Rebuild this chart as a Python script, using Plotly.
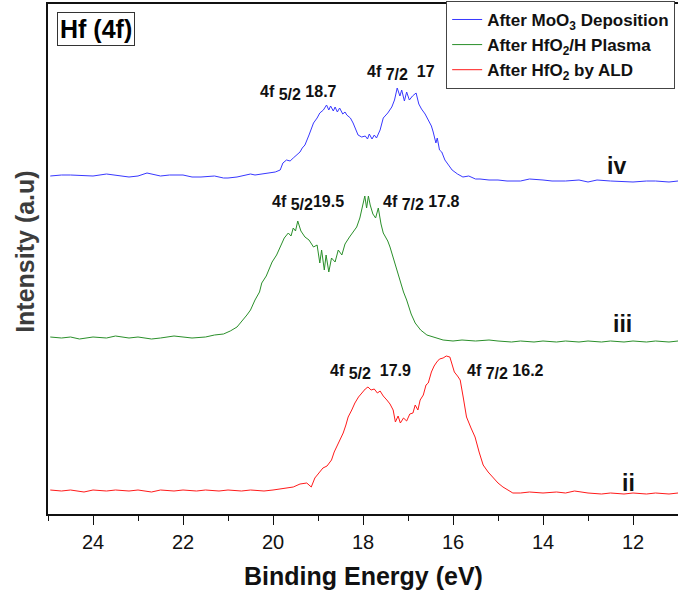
import plotly.graph_objects as go

# ---------------- data ----------------
energy_iv = [24.95,24.7,24.5,24.2,24.0,23.7,23.5,23.2,23.0,22.8,22.5,22.3,22.0,21.8,21.6,21.3,21.1,21.0,20.8,20.7,
             20.5,20.4,20.2,20.1,19.95,19.84,19.78,19.70,19.62,19.55,19.45,19.4,19.35,19.29,19.2,19.1,19.02,18.96,
             18.88,18.81,18.76,18.72,18.66,18.62,18.57,18.52,18.45,18.40,18.36,18.28,18.22,18.16,18.11,18.03,17.95,
             17.9,17.86,17.8,17.75,17.7,17.62,17.55,17.45,17.36,17.3,17.24,17.18,17.14,17.08,17.03,16.97,16.9,16.82,
             16.76,16.7,16.62,16.55,16.48,16.44,16.38,16.35,16.3,16.25,16.18,16.1,16.02,15.9,15.78,15.65,15.5,15.4,
             15.2,15.0,14.8,14.5,14.3,14.0,13.8,13.5,13.2,13.0,12.8,12.5,12.2,12.0,11.7,11.5,11.2,11.0]
intensity_iv = [338,339,339,338,338,340,339,337,338,341,338,339,339,337,337,338,336,336,337,338,
                340,339,340,341,342,344,351,354,353,356,360,362,366,369,379,391,396,401,
                404,409,404,408,403,407,402,406,400,402,399,396,391,384,379,377,378,
                375,380,375,379,376,384,396,401,407,414,426,418,424,413,422,414,418,421,
                410,405,400,394,388,382,371,376,364,362,354,349,344,340,337,338,335,335,
                334,334,333,333,335,334,333,333,334,332,334,333,332,332,333,333,332,333]

energy_iii = [24.95,24.7,24.5,24.3,24.0,23.7,23.5,23.2,23.0,22.7,22.5,22.2,22.0,21.8,21.5,21.3,21.1,20.95,20.8,20.7,
              20.58,20.5,20.4,20.3,20.25,20.15,20.02,19.92,19.84,19.75,19.66,19.6,19.55,19.5,19.45,19.38,19.29,19.2,
              19.1,19.02,18.96,18.92,18.86,18.82,18.76,18.7,18.62,18.55,18.47,18.4,18.3,18.22,18.14,18.07,18.0,
              17.96,17.92,17.88,17.84,17.78,17.72,17.66,17.6,17.55,17.45,17.4,17.3,17.2,17.1,17.03,16.93,16.84,
              16.72,16.58,16.45,16.22,16.0,15.8,15.5,15.2,15.0,14.7,14.5,14.2,14.0,13.7,13.5,13.2,13.0,12.7,12.5,
              12.2,12.0,11.7,11.5,11.2,11.0]
intensity_iii = [177,176,177,175,177,176,178,176,177,175,176,178,177,176,177,179,180,183,187,192,
                 199,204,214,222,231,238,252,259,267,276,281,278,286,283,293,283,277,274,
                 267,269,251,264,244,259,242,256,252,264,259,270,277,282,287,296,309,
                 318,306,318,309,300,296,306,290,281,273,267,252,236,222,214,200,191,
                 184,179,177,174,173,174,173,174,173,172,173,172,173,172,173,172,173,172,173,
                 172,173,172,173,172,173]

energy_ii = [24.95,24.7,24.5,24.2,24.0,23.7,23.5,23.2,23.0,22.7,22.5,22.2,22.0,21.7,21.5,21.2,21.0,20.7,20.5,20.2,
             20.0,19.8,19.65,19.55,19.4,19.25,19.15,19.07,18.98,18.89,18.8,18.7,18.64,18.59,18.52,18.44,18.38,18.33,
             18.25,18.18,18.1,18.03,17.95,17.89,17.82,17.75,17.68,17.62,17.55,17.47,17.4,17.33,17.28,17.22,17.17,
             17.1,17.03,16.96,16.89,16.84,16.78,16.73,16.66,16.6,16.55,16.48,16.42,16.36,16.3,16.22,16.15,16.07,
             16.02,15.97,15.9,15.84,15.77,15.7,15.6,15.51,15.42,15.33,15.22,15.11,15.0,14.89,14.78,14.67,14.5,14.3,
             14.0,13.7,13.5,13.3,13.0,12.7,12.5,12.2,12.0,11.7,11.5,11.2,11.0]
intensity_ii = [24,23,24,22,24,23,24,23,24,22,24,23,24,23,24,23,24,23,24,23,
                24,25,26,27,30,31,27,36,41,46,48,54,62,67,74,81,89,97,
                104,111,117,121,125,127,124,125,121,123,118,114,110,104,92,98,91,
                96,93,100,101,109,104,114,119,129,131,142,148,152,155,156,158,157,
                150,142,138,134,116,97,86,77,62,49,42,36,31,27,24,21,21,22,
                21,22,21,23,21,20,21,20,21,20,21,20,21]

series_names = ["After MoO<sub>3</sub> Deposition", "After HfO<sub>2</sub>/H Plasma", "After HfO<sub>2</sub> by ALD"]
series_colors = ["#3838ff", "#2a8f2a", "#ff1a1a"]

peak_labels = ["4f <sub><span style='font-size:16px'>5/2</span></sub> 18.7",
               "4f <sub><span style='font-size:16px'>7/2</span></sub>  17",
               "4f <sub><span style='font-size:16px'>5/2</span></sub>19.5",
               "4f <sub><span style='font-size:16px'>7/2</span></sub> 17.8",
               "4f <sub><span style='font-size:16px'>5/2</span></sub>  17.9",
               "4f <sub><span style='font-size:16px'>7/2</span></sub> 16.2"]
peak_label_x = [19.44, 17.16, 19.23, 16.70, 17.83, 14.84]
peak_label_y = [421, 441, 311, 311, 142, 142]

curve_labels = ["iv", "iii", "ii"]
curve_label_x = [12.36, 12.23, 12.09]
curve_label_y = [348, 190, 31]

x_ticks = [24, 22, 20, 18, 16, 14, 12]

# ---------------- figure ----------------
FONT = "Liberation Sans, Arial, sans-serif"
fig = go.Figure()
for ex, iy, name, col in zip([energy_iv, energy_iii, energy_ii],
                             [intensity_iv, intensity_iii, intensity_ii],
                             series_names, series_colors):
    fig.add_trace(go.Scatter(x=ex, y=iy, mode="lines", name="<b>" + name + "</b>",
                             line=dict(color=col, width=1), legendgroup=name))

annotations = []
for t, x, y in zip(peak_labels, peak_label_x, peak_label_y):
    annotations.append(dict(x=x, y=y, xref="x", yref="y", text="<b>" + t + "</b>", showarrow=False,
                            xanchor="center", yanchor="middle",
                            font=dict(family=FONT, size=16, color="#111111")))
for t, x, y in zip(curve_labels, curve_label_x, curve_label_y):
    annotations.append(dict(x=x, y=y, xref="x", yref="y", text="<b>" + t + "</b>", showarrow=False,
                            xanchor="center", yanchor="middle",
                            font=dict(family=FONT, size=23, color="#111111")))
annotations.append(dict(x=0.0143, y=0.984, xref="paper", yref="paper", text="<b>Hf (4f)</b>",
                        showarrow=False, xanchor="left", yanchor="top",
                        font=dict(family=FONT, size=25, color="#000000"),
                        bordercolor="#333333", borderwidth=1, borderpad=2, bgcolor="white"))
annotations.append(dict(x=-0.0365, y=0.514, xref="paper", yref="paper", text="<b>Intensity (a.u)</b>",
                        showarrow=False, textangle=-90, xanchor="center", yanchor="middle",
                        font=dict(family=FONT, size=25, color="#3c3c3c")))
annotations.append(dict(x=0.5, y=(514 - 576) / 510.0, xref="paper", yref="paper",
                        text="<b>Binding Energy (eV)</b>",
                        showarrow=False, xanchor="center", yanchor="middle",
                        font=dict(family=FONT, size=25, color="#111111")))

fig.update_layout(
    width=678, height=596,
    margin=dict(l=48, r=0, t=4, b=82),
    paper_bgcolor="white", plot_bgcolor="white",
    font=dict(family=FONT, color="#111111"),
    showlegend=True,
    legend=dict(x=0.632, y=1.006, xanchor="left", yanchor="top",
                bordercolor="#444444", borderwidth=1, bgcolor="white",
                font=dict(family=FONT, size=17, color="#111111"),
                tracegroupgap=0, itemwidth=30),
    annotations=annotations,
)
fig.update_xaxes(range=[25, 11], tickvals=x_ticks, ticktext=[str(v) for v in x_ticks],
                 ticks="outside", ticklen=9, tickwidth=1, tickcolor="#111111",
                 minor=dict(dtick=1, tick0=0, ticks="outside", ticklen=5, tickcolor="#111111"),
                 showline=True, linecolor="#111111", linewidth=1.5, mirror=True,
                 showgrid=False, zeroline=False,
                 tickfont=dict(family=FONT, size=20, color="#111111"))
fig.update_yaxes(range=[0, 510], showticklabels=False, ticks="",
                 showline=True, linecolor="#111111", linewidth=1.5,
                 showgrid=False, zeroline=False)

fig.write_html("out.html")
